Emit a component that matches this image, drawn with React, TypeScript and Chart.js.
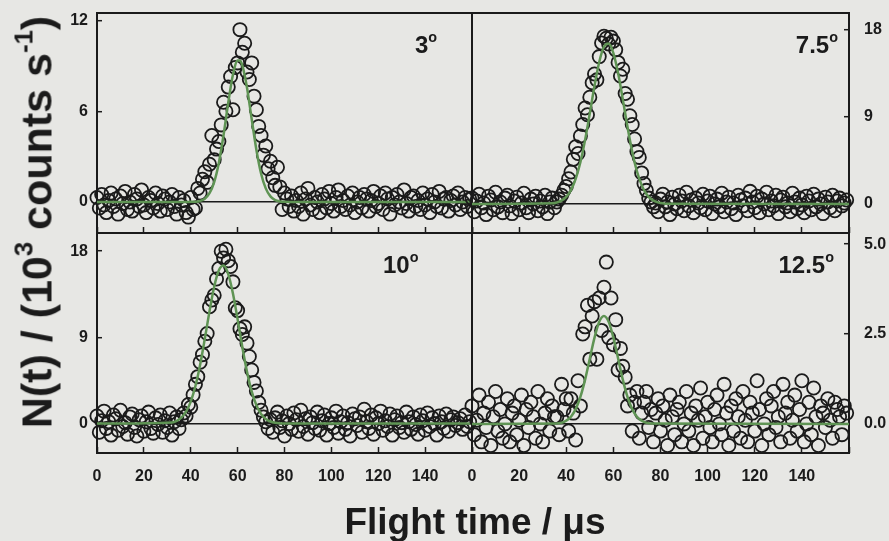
import React, { useEffect, useRef } from 'react';
import { Chart, registerables } from 'chart.js';

Chart.register(...registerables);

// ---------------- DATA ----------------
// Sampling interval of the time-of-flight channels (µs); channel i sits at i * SAMPLE_STEP_US
const SAMPLE_STEP_US = 1;

const xTickValues = [0, 20, 40, 60, 80, 100, 120, 140, 160];
const xTickLabels = ['0', '20', '40', '60', '80', '100', '120', '140', ''];

const panelLabels = ['3', '7.5', '10', '12.5'];

// 3 degrees
const counts3 = [
  0.3, -0.4, 0.5, -0.2, -0.7, 0.1, 0.6, -0.3, 0.2, -0.8,
  0.4, -0.1, 0.7, -0.5, 0.0, -0.6, 0.5, 0.2, -0.3, 0.8,
  -0.2, -0.7, 0.3, 0.1, -0.4, 0.6, -0.1, -0.6, 0.4, 0.2,
  -0.5, 0.0, 0.5, -0.3, -0.8, 0.3, -0.2, 0.1, -0.7, -1.0,
  0.3, -0.5, -0.4, 0.9, 0.6, 1.5, 2.0, 1.3, 2.5, 4.4,
  2.8, 3.5, 4.0, 5.1, 6.6, 6.0, 7.6, 8.3, 6.1, 8.9,
  9.2, 11.4, 9.9, 10.5, 8.6, 8.1, 9.2, 7.0, 6.1, 5.0,
  4.4, 3.1, 3.7, 2.2, 2.7, 1.6, 1.1, 2.3, 1.0, -0.5,
  0.6, 0.2, -0.3,
  0.4, -0.6, 0.1, -0.3, 0.6, -0.8, 0.2, 0.9, -0.2, -0.5,
  0.3, 0.0, -0.7, 0.5, 0.2, -0.4, 0.7, -0.1, -0.6, 0.3,
  0.8, -0.3, 0.1, -0.5, 0.4, -0.2, 0.6, -0.7, 0.0, 0.3,
  -0.4, 0.5, 0.2, -0.6, 0.1, 0.7, -0.3, -0.1, 0.4, -0.5,
  0.6, 0.2, -0.8, 0.3, -0.2, 0.5, 0.0, -0.4, 0.8, -0.1,
  -0.6, 0.3, 0.4, -0.3, 0.1, -0.5, 0.6, -0.2, 0.2, -0.7,
  0.5, 0.0, -0.3, 0.7, -0.4, 0.2, 0.3, -0.6, 0.1, 0.4,
  -0.2, 0.6, -0.5, 0.0, 0.3, -0.3, 0.2,
];
const fit3T = [0, 38, 40, 42, 44, 46, 48, 50, 52, 54, 56, 58, 60, 61, 62, 64, 66, 68, 70, 72, 74, 76, 78, 80, 82, 160];
const fit3Y = [0, 0, 0.01, 0.02, 0.07, 0.22, 0.58, 1.32, 2.6, 4.43, 6.56, 8.41, 9.36, 9.36, 9.03, 7.56, 5.49, 3.46, 1.89, 0.9, 0.37, 0.13, 0.04, 0.01, 0, 0];
const yTicks3 = [0, 6, 12];
const yLabels3 = ['0', '6', '12'];

// 7.5 degrees
const counts75 = [
  0.6, -0.8, 0.3, 1.0, -0.4, 0.1, -1.1, 0.8, 0.4, -0.6,
  1.2, -0.3, 0.2, -0.9, 0.6, 0.9, -0.2, -1.0, 0.3, 0.7,
  -0.6, 0.1, 1.1, -0.4, -0.9, 0.5, 0.0, 0.8, -0.7, 0.3,
  -0.3, 0.9, -1.0, 0.2, 0.6, -0.4,
  0.2, 0.5, 0.9, 1.4, 1.8, 2.6, 3.3, 4.6, 5.9, 5.2,
  7.0, 8.2, 9.9, 9.2, 11.0, 12.5, 13.4, 12.8, 15.2, 16.6,
  17.3, 17.1, 16.5, 17.2, 16.8, 15.9, 14.6, 13.2, 13.9, 11.4,
  10.8, 9.1, 8.2, 6.7, 5.4, 4.8, 3.2, 2.1, 1.4, 0.6,
  0.2, -0.3, 0.1,
  -0.8, 0.5, 1.0, -0.3, 0.2, -1.1, 0.7, 0.0, -0.5, 0.9,
  0.3, -0.7, 1.2, -0.2, 0.4, -0.9, 0.6, 0.1, -0.4, 1.0,
  -0.6, 0.3, 0.8, -1.0, 0.0, 0.5, -0.3, 1.1, -0.8, 0.2,
  0.7, -0.5, 0.1, -1.1, 0.9, 0.4, -0.2, 0.6, -0.7, 1.3,
  0.2, -0.4, 0.8, -0.9, 0.5, 0.0, 1.2, -0.6, 0.3, -0.2,
  0.9, -1.0, 0.4, 0.7, -0.3, 0.1, -0.8, 1.1, 0.2, -0.5,
  0.6, -0.1, -0.9, 0.8, 0.3, -0.6, 1.0, -0.3, 0.5, 0.0,
  -1.0, 0.7, 0.2, -0.4, 0.9, -0.7, 0.3, 0.6, -0.2, 0.1, 0.4,
];
const fit75T = [0, 34, 36, 38, 40, 42, 44, 46, 48, 50, 52, 54, 56, 58, 60, 62, 64, 66, 68, 70, 72, 74, 76, 78, 80, 82, 84, 160];
const fit75Y = [0, 0.06, 0.15, 0.34, 0.73, 1.43, 2.59, 4.3, 6.61, 9.35, 12.19, 14.65, 16.22, 16.56, 15.57, 13.5, 10.79, 7.94, 5.39, 3.37, 1.94, 1.03, 0.5, 0.23, 0.09, 0.03, 0.01, 0];
const yTicks75 = [0, 9, 18];
const yLabels75 = ['0', '9', '18'];

// 10 degrees
const counts10 = [
  0.8, -0.9, 0.3, 1.3, -0.5, 0.2, -1.2, 0.9, 0.5, -0.7,
  1.4, -0.3, 0.1, -1.1, 0.7, 1.0, -0.4, -1.3, 0.4, 0.8,
  -0.8, 0.2, 1.2, -0.5, -1.0, 0.6, -0.1, 0.9, -0.9, 0.3,
  -0.4, 1.1, -1.2, 0.2, 0.7, -0.5,
  0.4, 1.1, 0.8, 2.0, 1.7, 3.0, 4.1, 4.9, 6.4, 7.2,
  8.6, 9.4, 12.2, 12.9, 13.4, 15.1, 16.2, 18.0, 17.3, 18.2,
  17.0, 16.4, 14.8, 12.1, 11.8, 9.9, 9.3, 10.1, 8.4, 7.0,
  5.6, 4.3, 3.4, 2.2, 1.4, 0.7, 0.2, -0.5, 0.4,
  -0.9, 0.6, 1.2, -0.4, 0.3, -1.3, 0.8, 0.0, -0.6, 1.1,
  0.4, -0.8, 1.4, -0.3, 0.5, -1.1, 0.7, 0.1, -0.5, 1.2,
  -0.7, 0.3, 0.9, -1.2, 0.0, 0.6, -0.4, 1.3, -1.0, 0.2,
  0.8, -0.6, 0.1, -1.3, 1.0, 0.5, -0.2, 0.7, -0.9, 1.5,
  0.2, -0.5, 0.9, -1.1, 0.6, 0.0, 1.3, -0.7, 0.3, -0.3,
  1.0, -1.2, 0.4, 0.8, -0.4, 0.1, -0.9, 1.2, 0.2, -0.6,
  0.7, -0.1, -1.1, 0.9, 0.3, -0.7, 1.1, -0.3, 0.6, 0.0,
  -1.2, 0.8, 0.2, -0.5, 1.0, -0.8, 0.4, 0.7, -0.2, 0.1,
  0.5, -0.6, 0.9, -0.3, 0.2,
];
const fit10T = [0, 32, 34, 36, 38, 40, 42, 44, 46, 48, 50, 52, 54, 56, 58, 60, 62, 64, 66, 68, 70, 72, 74, 76, 78, 80, 160];
const fit10Y = [0, 0.12, 0.28, 0.62, 1.24, 2.3, 3.92, 6.14, 8.85, 11.73, 14.29, 16.0, 16.5, 15.6, 13.58, 10.88, 8.0, 5.42, 3.37, 1.93, 1.01, 0.49, 0.22, 0.09, 0.03, 0.01, 0];
const yTicks10 = [0, 9, 18];
const yLabels10 = ['0', '9', '18'];

// 12.5 degrees
const counts125 = [
  0.5, -0.3, 0.1, 0.8, -0.5, 0.3, -0.1, 0.6, -0.6, 0.2,
  0.9, -0.2, 0.4, -0.4, 0.0, 0.7, -0.5, 0.3, 0.5, -0.3,
  0.1, 0.8, -0.6, 0.4, -0.1, 0.6, 0.2, -0.4, 0.9, 0.0,
  -0.5, 0.3, 0.7, -0.2, 0.5, 0.2,
  0.2, -0.3, 1.1, 0.4, 0.7, -0.2, 0.7, 0.3, -0.45, 1.2,
  0.5, 2.5, 2.7, 3.3, 1.8, 3.0, 3.4, 1.8, 3.5, 2.6,
  3.8, 4.5, 2.4, 3.5, 2.2, 2.9, 1.5, 2.1, 1.6, 1.3,
  0.5, 0.8, -0.2, 0.6, 0.9, -0.4, 0.3, 0.6, 0.9, -0.1, 0.4,
  -0.5, 0.3, 0.7, -0.2, 0.5, 0.1, -0.6, 0.8, 0.2, -0.3,
  0.4, 0.6, -0.5, 0.0, 0.9, -0.2, 0.3, -0.6, 0.5, 0.1,
  1.0, -0.4, 0.2, 0.6, -0.1, -0.5, 0.4, 0.8, 0.0, -0.3,
  1.1, 0.3, -0.6, 0.5, -0.2, 0.7, 0.2, -0.4, 0.9, 0.1,
  -0.5, 0.6, 0.3, -0.2, 1.2, 0.4, -0.6, 0.0, 0.7, -0.3,
  0.5, 0.9, -0.1, 0.2, -0.5, 1.1, 0.3, 0.6, -0.4, 0.1,
  0.8, -0.2, 0.4, 1.2, -0.5, 0.0, 0.6, -0.3, 1.0, 0.2,
  -0.6, 0.5, 0.3, -0.1, 0.7, 0.1, -0.4, 0.6, 0.4, 0.2,
  -0.3, 0.5, 0.3,
];
const fit125T = [0, 36, 38, 40, 42, 44, 46, 48, 50, 52, 54, 56, 58, 60, 62, 64, 66, 68, 70, 72, 74, 76, 160];
const fit125Y = [0, 0.01, 0.03, 0.09, 0.2, 0.41, 0.75, 1.23, 1.82, 2.4, 2.84, 3.0, 2.84, 2.4, 1.82, 1.23, 0.75, 0.41, 0.2, 0.09, 0.03, 0.01, 0];
const yTicks125 = [0, 2.5, 5.0];
const yLabels125 = ['0.0', '2.5', '5.0'];

// ---------------- LAYOUT / STYLE ----------------
const W = 889;
const H = 541;
const BG = '#e7e7e4';
const INK = '#1b1b1b';
const GREEN = '#5f9454';
const FONT = '"Liberation Sans", Arial, Helvetica, sans-serif';
const Y_AXIS_W = 60;
const X_AXIS_H = 40;

type Area = { left: number; top: number; right: number; bottom: number };
type Spec = {
  counts: number[];
  fitT: number[];
  fitY: number[];
  yMin: number;
  yMax: number;
  yTicks: number[];
  yLabels: string[];
  area: Area;
  yPos: 'left' | 'right';
  showX: boolean;
};

const specs: Spec[] = [
  { counts: counts3, fitT: fit3T, fitY: fit3Y, yMin: -2.05, yMax: 12.5, yTicks: yTicks3, yLabels: yLabels3,
    area: { left: 97, top: 13, right: 472, bottom: 233 }, yPos: 'left', showX: false },
  { counts: counts75, fitT: fit75T, fitY: fit75Y, yMin: -3.0, yMax: 19.7, yTicks: yTicks75, yLabels: yLabels75,
    area: { left: 472, top: 13, right: 849, bottom: 233 }, yPos: 'right', showX: false },
  { counts: counts10, fitT: fit10T, fitY: fit10Y, yMin: -3.07, yMax: 19.9, yTicks: yTicks10, yLabels: yLabels10,
    area: { left: 97, top: 233, right: 472, bottom: 453 }, yPos: 'left', showX: true },
  { counts: counts125, fitT: fit125T, fitY: fit125Y, yMin: -0.81, yMax: 5.31, yTicks: yTicks125, yLabels: yLabels125,
    area: { left: 472, top: 233, right: 849, bottom: 453 }, yPos: 'right', showX: true },
];

const framePlugin = {
  id: 'frame',
  beforeDatasetsDraw(chart: any) {
    const { ctx, chartArea: a } = chart;
    ctx.save();
    ctx.strokeStyle = INK;
    ctx.lineWidth = 2;
    ctx.strokeRect(a.left, a.top, a.right - a.left, a.bottom - a.top);
    ctx.restore();
  },
};

function zeroPadding(sc: any) {
  sc.paddingTop = 0;
  sc.paddingBottom = 0;
  sc.paddingLeft = 0;
  sc.paddingRight = 0;
}

function buildConfig(s: Spec): any {
  const a = s.area;
  const padding = {
    left: s.yPos === 'left' ? a.left - Y_AXIS_W : a.left,
    right: s.yPos === 'right' ? W - a.right - Y_AXIS_W : W - a.right,
    top: a.top,
    bottom: H - a.bottom - X_AXIS_H,
  };
  const tickFont = { family: FONT, size: 16, weight: 'bold' as const };
  return {
    type: 'scatter',
    data: {
      datasets: [
        {
          data: s.fitT.map((t, i) => ({ x: t, y: s.fitY[i] })),
          showLine: true,
          borderColor: GREEN,
          borderWidth: 2.5,
          pointRadius: 0,
          cubicInterpolationMode: 'monotone',
          fill: false,
          clip: 2,
        },
        {
          data: s.counts.map((v, i) => ({ x: i * SAMPLE_STEP_US, y: v })),
          pointStyle: 'circle',
          pointRadius: 6.6,
          pointBorderWidth: 1.8,
          borderColor: INK,
          backgroundColor: 'rgba(0,0,0,0)',
          clip: 8,
        },
      ],
    },
    options: {
      animation: false,
      responsive: false,
      events: [],
      layout: { padding },
      plugins: { legend: { display: false }, tooltip: { enabled: false } },
      scales: {
        x: {
          type: 'linear',
          position: 'bottom',
          min: 0,
          max: 160,
          afterBuildTicks: (sc: any) => { sc.ticks = xTickValues.map((v) => ({ value: v })); },
          afterFit: (sc: any) => { sc.height = X_AXIS_H; zeroPadding(sc); },
          grid: { drawOnChartArea: false, drawTicks: true, tickLength: -6, tickWidth: 1.5, tickColor: INK },
          border: { display: false },
          ticks: {
            display: s.showX,
            autoSkip: false,
            maxRotation: 0,
            padding: 20,
            color: INK,
            font: tickFont,
            callback: (v: number) => xTickLabels[xTickValues.indexOf(v)],
          },
        },
        y: {
          type: 'linear',
          position: s.yPos,
          min: s.yMin,
          max: s.yMax,
          afterBuildTicks: (sc: any) => { sc.ticks = s.yTicks.map((v) => ({ value: v })); },
          afterFit: (sc: any) => { sc.width = Y_AXIS_W; zeroPadding(sc); },
          grid: {
            drawOnChartArea: true,
            drawTicks: true,
            tickLength: -5,
            tickWidth: 1.5,
            tickColor: INK,
            lineWidth: 1.4,
            color: (ctx: any) => (ctx.tick && ctx.tick.value === 0 ? INK : 'rgba(0,0,0,0)'),
          },
          border: { display: false },
          ticks: {
            padding: s.yPos === 'left' ? 14 : 20,
            color: INK,
            font: tickFont,
            callback: (v: number) => s.yLabels[s.yTicks.indexOf(v)],
          },
        },
      },
    },
    plugins: [framePlugin],
  };
}

function Panel({ spec }: { spec: Spec }) {
  const ref = useRef<HTMLCanvasElement>(null);
  useEffect(() => {
    if (!ref.current) return;
    const chart = new Chart(ref.current, buildConfig(spec));
    return () => chart.destroy();
  }, [spec]);
  return (
    <canvas
      ref={ref}
      width={W}
      height={H}
      style={{ position: 'absolute', left: 0, top: 0, width: W, height: H }}
    />
  );
}

const supStyle: React.CSSProperties = {
  fontSize: '0.6em',
  position: 'relative',
  top: '-0.75em',
  lineHeight: 0,
};

function PanelLabel({ text, x, baseline, align }: { text: string; x: number; baseline: number; align: 'left' | 'right' }) {
  const style: React.CSSProperties = {
    position: 'absolute',
    top: baseline - 20,
    font: `bold 24px ${FONT}`,
    lineHeight: '24px',
    color: INK,
    whiteSpace: 'nowrap',
  };
  if (align === 'left') style.left = x;
  else style.right = W - x;
  return (
    <div style={style}>
      {text}
      <span style={supStyle}>o</span>
    </div>
  );
}

export default function App() {
  return (
    <div
      style={{
        position: 'fixed',
        left: 0,
        top: 0,
        width: W,
        height: H,
        background: BG,
        overflow: 'hidden',
        fontFamily: FONT,
      }}
    >
      {specs.map((s, i) => (
        <Panel key={i} spec={s} />
      ))}
      <PanelLabel text={panelLabels[0]} x={415} baseline={53} align="left" />
      <PanelLabel text={panelLabels[1]} x={838} baseline={53} align="right" />
      <PanelLabel text={panelLabels[2]} x={383} baseline={273} align="left" />
      <PanelLabel text={panelLabels[3]} x={834} baseline={273} align="right" />
      <div
        style={{
          position: 'absolute',
          left: 37,
          top: 222,
          transform: 'translate(-50%, -50%) rotate(-90deg)',
          font: `bold 43px ${FONT}`,
          lineHeight: '43px',
          color: INK,
          whiteSpace: 'nowrap',
        }}
      >
        N(t) / (10<span style={supStyle}>3</span> counts s<span style={supStyle}>-1</span>)
      </div>
      <div
        style={{
          position: 'absolute',
          left: 475,
          top: 521,
          transform: 'translate(-50%, -50%)',
          font: `bold 37px ${FONT}`,
          lineHeight: '37px',
          color: INK,
          whiteSpace: 'nowrap',
        }}
      >
        Flight time / μs
      </div>
    </div>
  );
}
